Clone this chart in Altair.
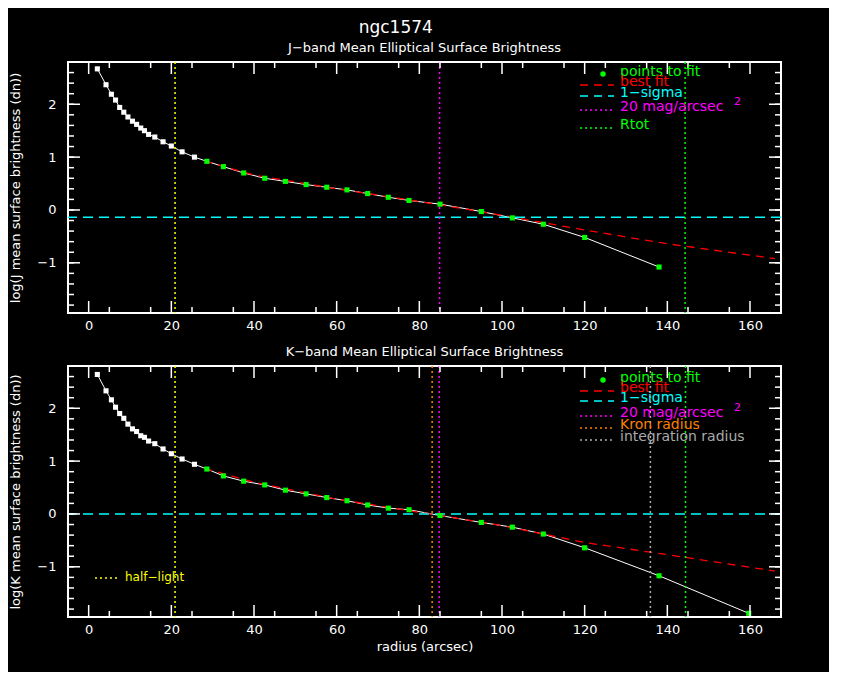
import altair as alt
import pandas as pd

# radius (arcsec) and log surface brightness
radius = [2.1, 4.2, 5.5, 6.5, 7.5, 8.5, 9.5, 10.6, 11.6, 12.6, 13.5, 14.5, 16.0, 18.0, 20.0,
          22.6, 25.6, 28.6, 32.6, 37.5, 42.6, 47.6, 52.6, 57.6, 62.5, 67.5, 72.5, 77.5, 85.0,
          95.0, 102.5, 110.0, 120.0, 138.0]
j_sb = [2.67, 2.37, 2.19, 2.08, 1.94, 1.85, 1.76, 1.68, 1.62, 1.55, 1.50, 1.43, 1.38, 1.29, 1.21,
        1.10, 1.00, 0.92, 0.82, 0.70, 0.60, 0.54, 0.48, 0.43, 0.38, 0.31, 0.24, 0.18, 0.11,
        -0.03, -0.15, -0.27, -0.52, -1.08]
radius_k = radius + [159.7]
k_sb = [2.64, 2.33, 2.16, 2.02, 1.90, 1.81, 1.70, 1.61, 1.56, 1.48, 1.45, 1.38, 1.33, 1.23, 1.14,
        1.04, 0.94, 0.85, 0.72, 0.62, 0.55, 0.45, 0.38, 0.31, 0.25, 0.17, 0.11, 0.08, -0.03,
        -0.16, -0.25, -0.38, -0.64, -1.17, -1.88]
fit_start = 28.6

fit_r = [28.0, 40.0, 60.0, 80.0, 100.0, 120.0, 140.0, 166.0]
fit_j = [0.93, 0.66, 0.40, 0.16, -0.10, -0.38, -0.64, -0.92]
fit_r_k = [28.0, 40.0, 60.0, 85.0, 100.0, 120.0, 140.0, 166.0]
fit_k = [0.86, 0.60, 0.28, -0.03, -0.22, -0.54, -0.77, -1.08]

sigma_j = -0.14
sigma_k = 0.0

j_lines = [("half", 20.9, "#ffff00"), ("mag20", 84.9, "#ff00ff"), ("rtot", 144.3, "#00ff00")]
k_lines = [("half", 20.9, "#ffff00"), ("kron", 83.1, "#ff8000"), ("mag20", 84.8, "#ff00ff"),
           ("integ", 135.9, "#aaaaaa"), ("rtot", 144.4, "#00ff00")]

x_major = [0, 20, 40, 60, 80, 100, 120, 140, 160]
x_minor = [-5 + 10 * i for i in range(1, 17)]
y_major = [-1, 0, 1, 2]
y_minor = [round(-1.8 + 0.2 * i, 1) for i in range(23)]

W, H = 713, 251
XDOM = [-5, 167.5]
YDOM = [-1.95, 2.8]
FONT = "DejaVu Sans"


def panel(r, sb, fr, fv, sigma, sigma_color, vlines, ytitle, title, legend, show_xtitle, extra=None):
    df = pd.DataFrame({"r": r, "sb": sb})
    df["fit"] = df["r"] >= fit_start
    xs = alt.Scale(domain=XDOM, nice=False, zero=False)
    ys = alt.Scale(domain=YDOM, nice=False, zero=False)
    xax = alt.Axis(values=x_major, format="d", ticks=False, domain=False, grid=False, labelColor="white",
                   labelFontSize=13, labelFont=FONT, titleColor="white", titleFont=FONT,
                   titleFontSize=13, titleFontWeight="normal", labelPadding=6)
    yax = alt.Axis(values=y_major, format="d", ticks=False, domain=False, grid=False, labelColor="white",
                   labelFontSize=13, labelFont=FONT, titleColor="white", titleFont=FONT,
                   titleFontSize=13, titleFontWeight="normal", labelPadding=12, titlePadding=14)
    base = alt.Chart(df)
    line = base.mark_line(color="white", strokeWidth=1).encode(
        x=alt.X("r:Q", scale=xs, axis=xax, title="radius (arcsec)" if show_xtitle else None),
        y=alt.Y("sb:Q", scale=ys, axis=yax, title=ytitle),
    )
    pts = base.mark_square(size=26, opacity=1).encode(
        x="r:Q", y="sb:Q",
        color=alt.condition("datum.fit", alt.value("#00ff00"), alt.value("white")),
    )
    fit = alt.Chart(pd.DataFrame({"r": fr, "v": fv})).mark_line(
        color="#ff0000", strokeDash=[8, 6], strokeWidth=1.3, clip=True).encode(x="r:Q", y="v:Q")
    sig = alt.Chart(pd.DataFrame({"v": [sigma]})).mark_rule(
        color=sigma_color, strokeDash=[10, 6], strokeWidth=1.5).encode(y="v:Q")
    layers = [line, fit, sig]
    for _, xv, col in vlines:
        layers.append(alt.Chart(pd.DataFrame({"x": [xv]})).mark_rule(
            color=col, strokeDash=[2, 3], strokeWidth=1.5).encode(x="x:Q"))
    layers.append(pts)

    # inward ticks on all sides
    for vals, ln in ((x_major, 12), (x_minor, 6)):
        t = alt.Chart(pd.DataFrame({"x": vals})).mark_rule(color="white", strokeWidth=1.5)
        layers.append(t.encode(x="x:Q", y=alt.value(H), y2=alt.value(H - ln)))
        layers.append(t.encode(x="x:Q", y=alt.value(0), y2=alt.value(ln)))
    for vals, ln in ((y_major, 12), (y_minor, 6)):
        t = alt.Chart(pd.DataFrame({"y": vals})).mark_rule(color="white", strokeWidth=1.5)
        layers.append(t.encode(y="y:Q", x=alt.value(0), x2=alt.value(ln)))
        layers.append(t.encode(y="y:Q", x=alt.value(W), x2=alt.value(W - ln)))

    # legend
    one = alt.Chart(pd.DataFrame({"a": [0]}))
    for label, col, kind, yy in legend:
        layers.append(one.mark_text(align="left", baseline="middle", color=col, fontSize=14,
                                    font=FONT).encode(x=alt.value(552), y=alt.value(yy), text=alt.value(label)))
        if kind == "dot":
            layers.append(one.mark_circle(color=col, size=30, opacity=1).encode(
                x=alt.value(535), y=alt.value(yy + 2)))
        else:
            dash = [8, 6] if kind == "dash" else [2, 3]
            layers.append(one.mark_rule(color=col, strokeDash=dash, strokeWidth=1.5).encode(
                x=alt.value(512), x2=alt.value(546), y=alt.value(yy + 3)))
        if label.startswith("20 mag"):
            layers.append(one.mark_text(align="left", color=col, fontSize=11, font=FONT).encode(
                x=alt.value(666), y=alt.value(yy - 5), text=alt.value("2")))
    if extra:
        layers.extend(extra)

    return alt.layer(*layers).properties(
        width=W, height=H,
        title=alt.TitleParams(title, color="white", fontSize=13, font=FONT, fontWeight="normal", offset=6),
    )


legend_j = [
    ("points to fit", "#00ff00", "dot", 10),
    ("best fit", "#ff0000", "dash", 20),
    ("1\u2212sigma", "#00ffff", "dash", 31),
    ("20 mag/arcsec", "#ff00ff", "dot_line", 45),
    ("Rtot", "#00ff00", "dot_line", 63),
]
legend_k = [
    ("points to fit", "#00ff00", "dot", 12),
    ("best fit", "#ff0000", "dash", 22),
    ("1\u2212sigma", "#00ffff", "dash", 32),
    ("20 mag/arcsec", "#ff00ff", "dot_line", 47),
    ("Kron radius", "#ff8000", "dot_line", 59),
    ("integration radius", "#aaaaaa", "dot_line", 71),
]

one = alt.Chart(pd.DataFrame({"a": [0]}))
half = [
    one.mark_rule(color="#ffff00", strokeDash=[2, 3], strokeWidth=1.5).encode(
        x=alt.value(27), x2=alt.value(50), y=alt.value(212)),
    one.mark_text(align="left", baseline="middle", color="#ffff00", fontSize=12, font=FONT).encode(
        x=alt.value(57), y=alt.value(211), text=alt.value("half\u2212light")),
]

top = panel(radius, j_sb, fit_r, fit_j, sigma_j, "#00ffff", j_lines,
            "log(J mean surface brightness (dn))", "J\u2212band Mean Elliptical Surface Brightness",
            legend_j, False)
bottom = panel(radius_k, k_sb, fit_r_k, fit_k, sigma_k, "#00ffff", k_lines,
               "log(K mean surface brightness (dn))", "K\u2212band Mean Elliptical Surface Brightness",
               legend_k, True, half)

chart = alt.vconcat(top, bottom, spacing=12).properties(
    background="black",
    title=alt.TitleParams("ngc1574", color="white", fontSize=17, font=FONT, fontWeight="normal",
                          anchor="middle", offset=4),
    padding={"left": 0, "top": 11, "right": 46, "bottom": 18},
).configure_view(stroke="white", strokeWidth=2).configure_concat(spacing=12)

chart.save("out.html", embed_options={"renderer": "svg", "actions": False})
